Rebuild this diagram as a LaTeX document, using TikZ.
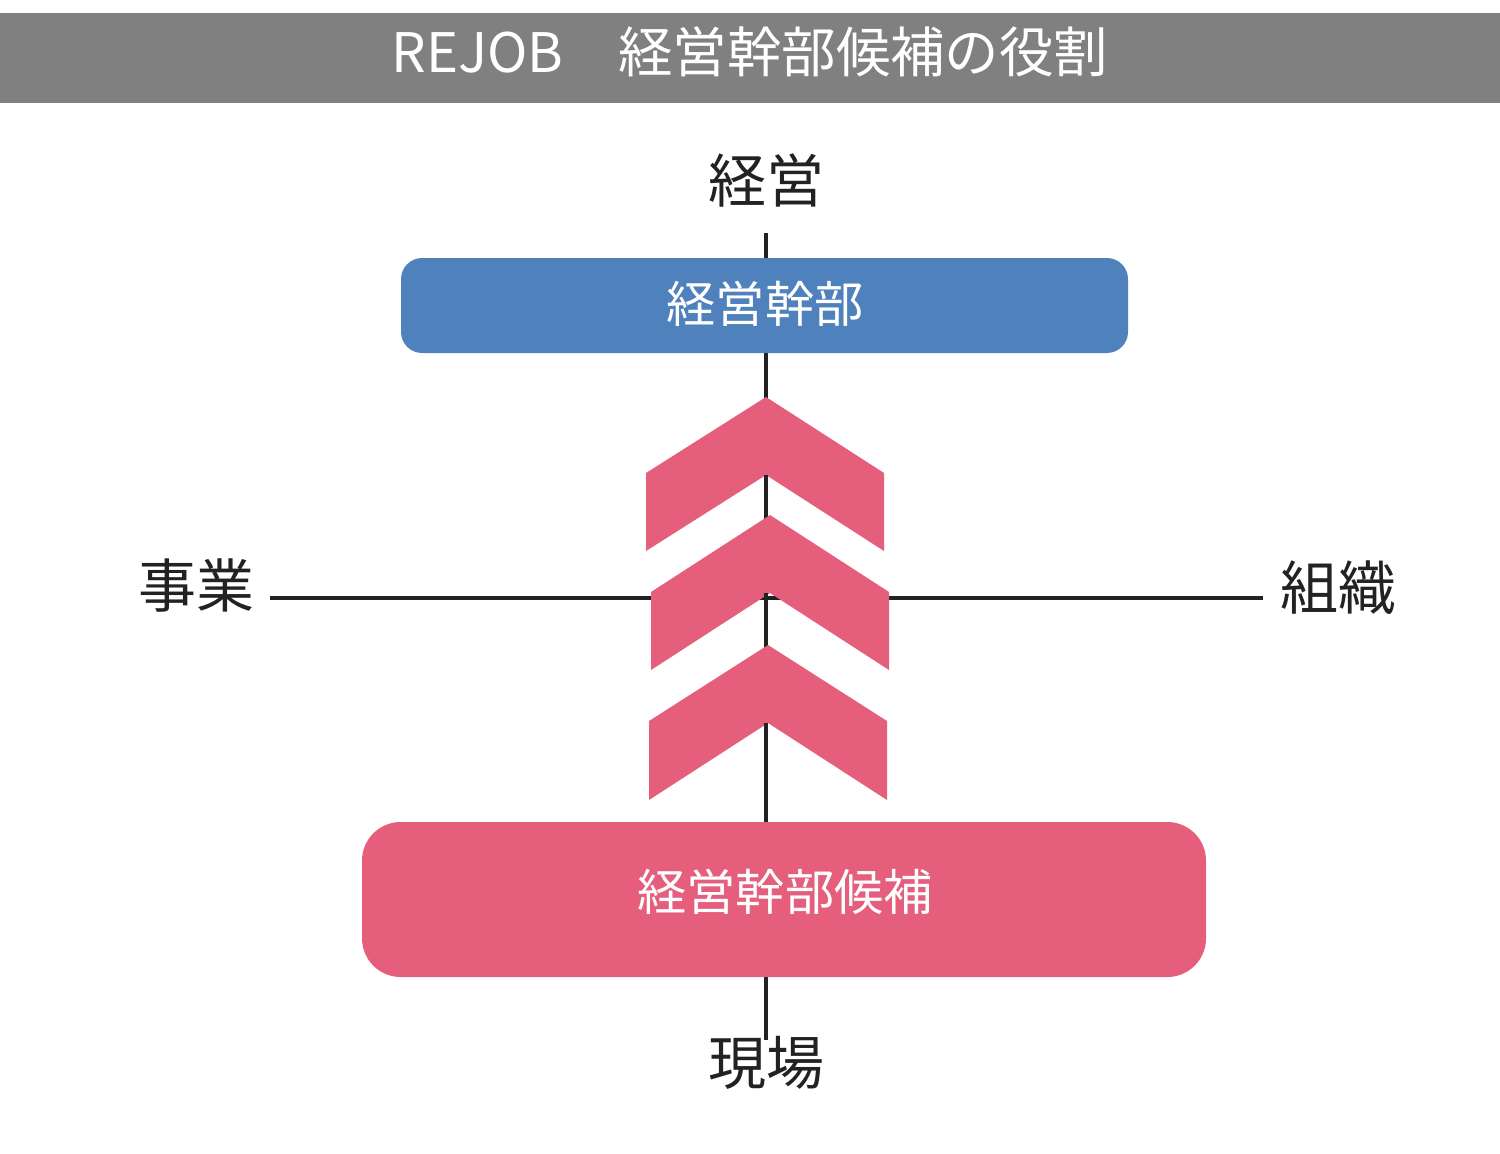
\documentclass[tikz,border=0pt]{standalone}
\usepackage{fontspec}
\newfontfamily\cjk{Noto Sans CJK JP}
\usetikzlibrary{positioning}
\definecolor{kopf}{RGB}{128,128,128}
\definecolor{blau}{RGB}{79,129,189}
\definecolor{rosa}{RGB}{229,94,124}
\definecolor{tinte}{RGB}{34,34,34}
\tikzset{
  achse/.style={line width=2.3pt, color=tinte},
  box/.style={rounded corners=8pt, text=white, font=\cjk\fontsize{28}{30}\selectfont},
  marke/.style={text=tinte, font=\cjk\fontsize{33}{36}\selectfont},
  winkel/.style={fill=rosa, draw=none}
}
\begin{document}
\begin{tikzpicture}[x=0.02cm, y=-0.02cm]
    \useasboundingbox (0,0) rectangle (1500,1153);

    %% Kopfzeile
    \fill[kopf] (0,13) rectangle (1500,103);
    \node[text=white, font=\cjk\fontsize{31}{34}\selectfont] (titel) at (750,52) {REJOB　経営幹部候補の役割};

    %% Achsen
    \node[marke] (oben) at (766,180) {経営};
    \node[marke] (unten) at (766,1063) {現場};
    \node[marke] (links) at (196,586) {事業};
    \node[marke] (rechts) at (1338,588) {組織};
    \coordinate (vo) at (766,233);
    \coordinate (vu) at (766,1040);
    \coordinate (hl) at (270,598);
    \coordinate (hr) at (1263,598);
    \draw[achse] (vo) -- (vu);
    \draw[achse] (hl) -- (hr);

    %% Kaesten
    \fill[blau, rounded corners=12pt] (401,258) rectangle (1128,353);
    \node[box] (kader) at (765,304) {経営幹部};
    \fill[rosa, rounded corners=22pt] (362,822) rectangle (1206,977);
    \node[box] (kandidat) at (785,892) {経営幹部候補};

    %% Pfeile
    \fill[winkel] (766,397) -- (884,473) -- (884,551) -- (766,475) -- (646,551) -- (646,473) -- cycle;
    \fill[winkel] (770,515) -- (889,592) -- (889,670) -- (770,593) -- (651,670) -- (651,592) -- cycle;
    \fill[winkel] (768,645) -- (887,721) -- (887,800) -- (768,723) -- (649,800) -- (649,721) -- cycle;
    \draw[achse] (766,475) -- (766,515);
    \draw[achse] (766,593) -- (766,645);
    \draw[achse] (766,723) -- (766,822);
\end{tikzpicture}
\end{document}
